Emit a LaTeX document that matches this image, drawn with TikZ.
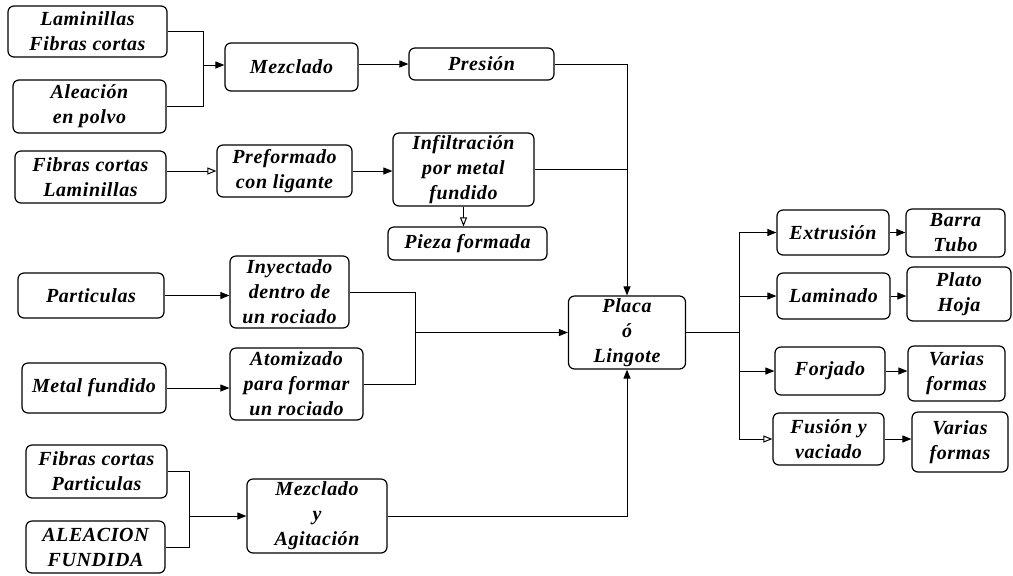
\documentclass[tikz,border=0pt]{standalone}
\usepackage{fontspec}
\setmainfont[LetterSpace=3]{Liberation Serif}
\usetikzlibrary{arrows.meta}

\tikzset{
  box/.style={draw, line width=0.6pt, rounded corners=3pt, align=center,
              inner sep=0pt, font=\fontsize{10}{12.5}\selectfont\bfseries\itshape},
  sz/.style 2 args={minimum width=#1*0.5pt, minimum height=#2*0.5pt},
  link/.style={line width=0.5pt},
  arr/.style={link, -{Triangle[length=4.5pt,width=3.5pt]}},
  harr/.style={link, -{Triangle[open,length=4.5pt,width=3.5pt]}}
}

\begin{document}
\begin{tikzpicture}[x=0.5pt, y=-0.5pt]
      \useasboundingbox (0,0) rectangle (1013,575);
      % entradas y procesos
      \node[box, sz={159}{51}] (lam1)  at (87.5,31.5)  {Laminillas\\Fibras cortas};
      \node[box, sz={153}{53}] (alea)  at (89.5,106.5) {Aleación\\en polvo};
      \node[box, sz={133}{48}] (mezc)  at (291.5,67)   {Mezclado};
      \node[box, sz={145}{32}] (pres)  at (481.5,64)   {Presión};
      \node[box, sz={151}{52}] (fib2)  at (90.5,177)   {Fibras cortas\\Laminillas};
      \node[box, sz={135}{52}] (pref)  at (284.5,171)  {Preformado\\con ligante};
      \node[box, sz={141}{73}] (infil) at (463.5,169.5) {Infiltración\\por metal\\fundido};
      \node[box, sz={159}{33}] (pieza) at (467.5,243.5) {Pieza formada};
      \node[box, sz={146}{45}] (part)  at (91,295.5)   {Particulas};
      \node[box, sz={119}{72}] (iny)   at (289.5,292)  {Inyectado\\dentro de\\un rociado};
      \node[box, sz={144}{50}] (metal) at (94,388)     {Metal fundido};
      \node[box, sz={133}{72}] (atom)  at (296.5,384)  {Atomizado\\para formar\\un rociado};
      \node[box, sz={141}{53}] (fib3)  at (96.5,471.5) {Fibras cortas\\Particulas};
      \node[box, sz={139}{52}] (alea2) at (95.5,547)   {ALEACION\\FUNDIDA};
      \node[box, sz={140}{74}] (mezag) at (317,516)    {Mezclado\\y\\Agitación};
      \node[box, sz={117}{73}] (placa) at (627,332.5)  {Placa\\ó\\Lingote};
      % procesos secundarios
      \node[box, sz={112}{45}] (extr)   at (833,232.5) {Extrusión};
      \node[box, sz={99}{48}]  (barra)  at (955.5,233) {Barra\\Tubo};
      \node[box, sz={113}{46}] (lamin)  at (833.5,296) {Laminado};
      \node[box, sz={104}{54}] (plato)  at (959,294)   {Plato\\Hoja};
      \node[box, sz={110}{48}] (forj)   at (830,371)   {Forjado};
      \node[box, sz={97}{55}]  (var1)   at (956.5,373.5) {Varias\\formas};
      \node[box, sz={111}{52}] (fusion) at (828.5,439) {Fusión y\\vaciado};
      \node[box, sz={96}{60}]  (var2)   at (960,442)   {Varias\\formas};

      \coordinate (j1) at (203,65);
      \coordinate (j2) at (415,332.5);
      \coordinate (j3) at (189,516);
      \coordinate (j4) at (739,332.5);

      \draw[link] (lam1.east) -| (j1);
      \draw[link] (alea.east) -| (j1);
      \draw[arr] (j1) -- (j1 -| mezc.west);
      \draw[arr] (mezc.east |- pres.west) -- (pres.west);
      \draw[arr] (pres.east) -| (placa.north);
      \draw[harr] (pref.west -| fib2.east) -- (pref.west);
      \draw[arr] (pref.east) -- (pref.east -| infil.west);
      \draw[link] (infil.east) -- (infil.east -| placa.north);
      \draw[harr] (infil.south) -- (infil.south |- pieza.north);
      \draw[arr] (part.east) -- (part.east -| iny.west);
      \draw[arr] (metal.east) -- (metal.east -| atom.west);
      \draw[link] (iny.east) -| (j2);
      \draw[link] (atom.east) -| (j2);
      \draw[arr] (j2) -- (placa.west);
      \draw[link] (fib3.east) -| (j3);
      \draw[link] (alea2.east) -| (j3);
      \draw[arr] (j3) -- (mezag.west);
      \draw[arr] (mezag.east) -| (placa.south);

      \draw[link] (placa.east) -- (j4);
      \draw[link] (j4 |- extr.west) -- (j4 |- fusion.west);
      \draw[arr] (j4 |- extr.west) -- (extr.west);
      \draw[arr] (j4 |- lamin.west) -- (lamin.west);
      \draw[arr] (j4 |- forj.west) -- (forj.west);
      \draw[harr] (j4 |- fusion.west) -- (fusion.west);
      \draw[arr] (extr.east) -- (extr.east -| barra.west);
      \draw[arr] (lamin.east) -- (lamin.east -| plato.west);
      \draw[arr] (forj.east) -- (forj.east -| var1.west);
      \draw[arr] (fusion.east) -- (fusion.east -| var2.west);
\end{tikzpicture}
\end{document}
